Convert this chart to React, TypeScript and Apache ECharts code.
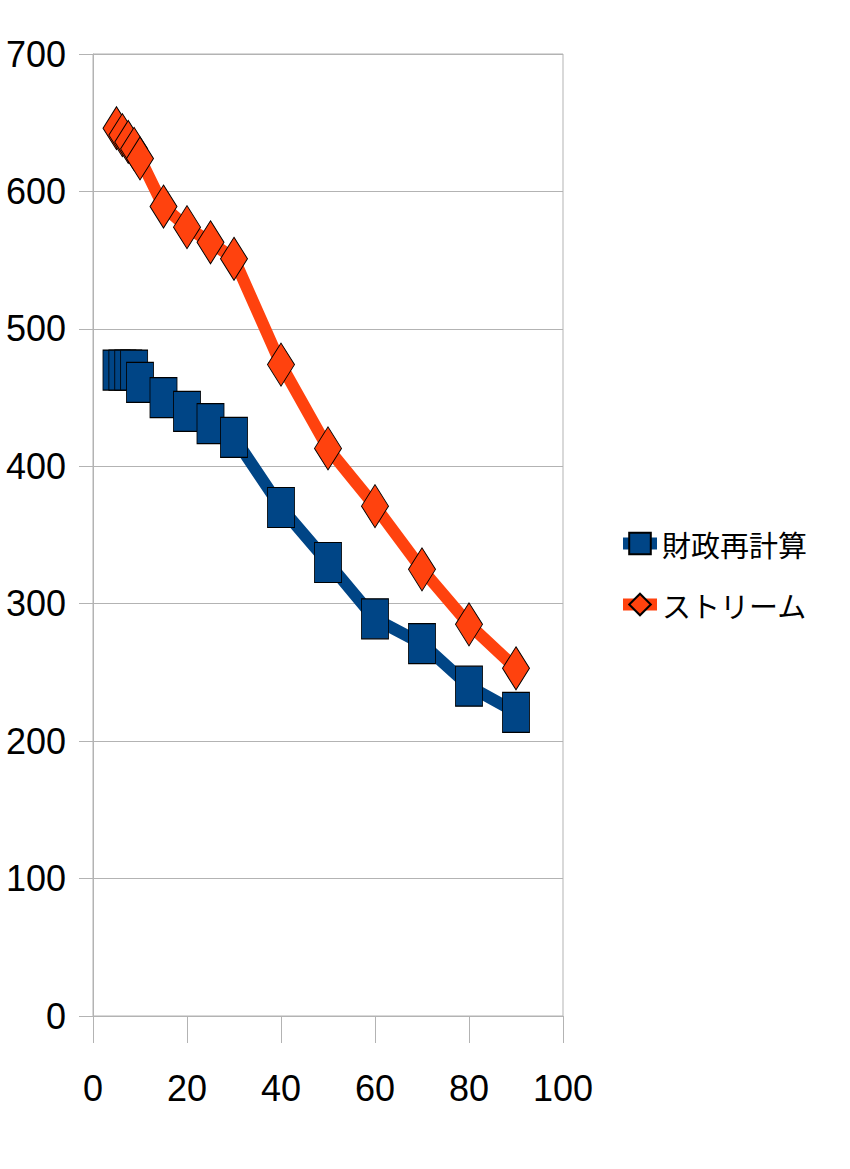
import React, { useEffect, useRef } from "react";
import * as echarts from "echarts";

const xValues = [5, 6.25, 7.5, 8.75, 10, 15, 20, 25, 30, 40, 50, 60, 70, 80, 90];
const fiscalRecalc = [470, 470, 470, 470, 461, 450, 440, 431, 421, 370, 330, 289, 271, 240, 221];
const stream = [646, 641, 636, 631, 624, 589, 574, 563, 551, 474, 413, 371, 325, 285, 253];
const seriesNames = ["財政再計算", "ストリーム"];

const GRAY = "#b3b3b3";
const NUM_FONT = "'Liberation Sans Narrow', 'Liberation Sans', sans-serif";
const CJK_FONT = "'Noto Sans CJK JP', 'Noto Sans', sans-serif";

export default function App() {
  const ref = useRef<HTMLDivElement>(null);
  useEffect(() => {
    document.body.style.margin = "0";
    if (!ref.current) return;
    const chart = echarts.init(ref.current, undefined, { renderer: "svg" });
    const pair = (ys: number[]) => xValues.map((x, i) => [x, ys[i]]);
    chart.setOption({
      animation: false,
      backgroundColor: "#ffffff",
      grid: {
        left: 93,
        right: 287,
        top: 54,
        bottom: 153,
        show: true,
        borderColor: GRAY,
        borderWidth: 1,
        containLabel: false,
        outerBoundsMode: "none",
      },
      legend: {
        orient: "vertical",
        left: 617,
        top: 529,
        padding: 0,
        itemWidth: 34,
        itemHeight: 27,
        itemGap: 32,
        lineStyle: { width: 12 },
        textStyle: { fontFamily: CJK_FONT, fontSize: 29, color: "#000" },
        data: seriesNames,
      },
      xAxis: {
        type: "value",
        min: 0,
        max: 100,
        interval: 20,
        axisLine: { show: true, lineStyle: { color: GRAY, width: 1 } },
        axisTick: { show: true, length: 27, inside: false, lineStyle: { color: GRAY, width: 1 } },
        splitLine: { show: false },
        axisLabel: { fontFamily: NUM_FONT, fontSize: 36, color: "#000", margin: 54 },
      },
      yAxis: {
        type: "value",
        min: 0,
        max: 700,
        interval: 100,
        axisLine: { show: true, lineStyle: { color: GRAY, width: 1 } },
        axisTick: { show: true, length: 14, inside: false, lineStyle: { color: GRAY, width: 1 } },
        splitLine: { show: true, lineStyle: { color: GRAY, width: 1 } },
        axisLabel: { fontFamily: NUM_FONT, fontSize: 36, color: "#000", margin: 27 },
      },
      series: [
        {
          name: seriesNames[0],
          type: "line",
          data: pair(fiscalRecalc),
          symbol: "rect",
          symbolSize: [27, 40],
          lineStyle: { color: "#004586", width: 12 },
          itemStyle: { color: "#004586", borderColor: "#000", borderWidth: 1 },
          z: 2,
        },
        {
          name: seriesNames[1],
          type: "line",
          data: pair(stream),
          symbol: "diamond",
          symbolSize: [27, 43],
          lineStyle: { color: "#ff420e", width: 12 },
          itemStyle: { color: "#ff420e", borderColor: "#000", borderWidth: 1 },
          z: 3,
        },
      ],
    });
    return () => chart.dispose();
  }, []);
  return <div ref={ref} style={{ width: 850, height: 1169 }} />;
}
